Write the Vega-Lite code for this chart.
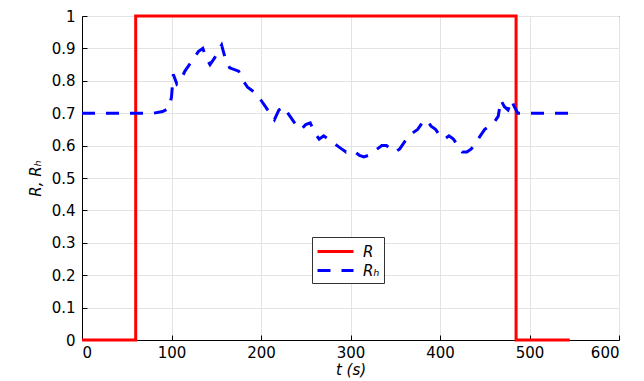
{
  "$schema": "https://vega.github.io/schema/vega-lite/v6.json",
  "width": 537,
  "height": 324,
  "autosize": {"type": "none"},
  "padding": {"left": 82, "top": 16, "right": 25, "bottom": 41},
  "background": "white",
  "config": {
    "view": {"stroke": "black", "strokeWidth": 1}
  },
  "data": {
    "values": [
      {"s": "R", "i": 0, "t": 0, "v": 0},
      {"s": "R", "i": 1, "t": 60, "v": 0},
      {"s": "R", "i": 2, "t": 60, "v": 1},
      {"s": "R", "i": 3, "t": 485, "v": 1},
      {"s": "R", "i": 4, "t": 485, "v": 0},
      {"s": "R", "i": 5, "t": 545, "v": 0},
      {"s": "Rₕ", "i": 0, "t": 0, "v": 0.7},
      {"s": "Rₕ", "i": 1, "t": 60, "v": 0.7},
      {"s": "Rₕ", "i": 2, "t": 80, "v": 0.7},
      {"s": "Rₕ", "i": 3, "t": 90, "v": 0.705},
      {"s": "Rₕ", "i": 4, "t": 97, "v": 0.715},
      {"s": "Rₕ", "i": 5, "t": 100, "v": 0.75},
      {"s": "Rₕ", "i": 6, "t": 102, "v": 0.82},
      {"s": "Rₕ", "i": 7, "t": 106, "v": 0.79},
      {"s": "Rₕ", "i": 8, "t": 110, "v": 0.8},
      {"s": "Rₕ", "i": 9, "t": 115, "v": 0.83},
      {"s": "Rₕ", "i": 10, "t": 120, "v": 0.85},
      {"s": "Rₕ", "i": 11, "t": 125, "v": 0.87},
      {"s": "Rₕ", "i": 12, "t": 130, "v": 0.89},
      {"s": "Rₕ", "i": 13, "t": 135, "v": 0.9},
      {"s": "Rₕ", "i": 14, "t": 139, "v": 0.87},
      {"s": "Rₕ", "i": 15, "t": 143, "v": 0.85},
      {"s": "Rₕ", "i": 16, "t": 148, "v": 0.87},
      {"s": "Rₕ", "i": 17, "t": 152, "v": 0.89},
      {"s": "Rₕ", "i": 18, "t": 156, "v": 0.91},
      {"s": "Rₕ", "i": 19, "t": 160, "v": 0.87},
      {"s": "Rₕ", "i": 20, "t": 165, "v": 0.84},
      {"s": "Rₕ", "i": 21, "t": 175, "v": 0.83},
      {"s": "Rₕ", "i": 22, "t": 180, "v": 0.8},
      {"s": "Rₕ", "i": 23, "t": 185, "v": 0.78},
      {"s": "Rₕ", "i": 24, "t": 190, "v": 0.77},
      {"s": "Rₕ", "i": 25, "t": 195, "v": 0.76},
      {"s": "Rₕ", "i": 26, "t": 200, "v": 0.74},
      {"s": "Rₕ", "i": 27, "t": 205, "v": 0.72},
      {"s": "Rₕ", "i": 28, "t": 210, "v": 0.7},
      {"s": "Rₕ", "i": 29, "t": 215, "v": 0.68},
      {"s": "Rₕ", "i": 30, "t": 220, "v": 0.71},
      {"s": "Rₕ", "i": 31, "t": 225, "v": 0.72},
      {"s": "Rₕ", "i": 32, "t": 230, "v": 0.7},
      {"s": "Rₕ", "i": 33, "t": 235, "v": 0.68},
      {"s": "Rₕ", "i": 34, "t": 240, "v": 0.66},
      {"s": "Rₕ", "i": 35, "t": 245, "v": 0.65},
      {"s": "Rₕ", "i": 36, "t": 250, "v": 0.665},
      {"s": "Rₕ", "i": 37, "t": 255, "v": 0.67},
      {"s": "Rₕ", "i": 38, "t": 260, "v": 0.64},
      {"s": "Rₕ", "i": 39, "t": 265, "v": 0.62},
      {"s": "Rₕ", "i": 40, "t": 270, "v": 0.63},
      {"s": "Rₕ", "i": 41, "t": 275, "v": 0.62},
      {"s": "Rₕ", "i": 42, "t": 280, "v": 0.61},
      {"s": "Rₕ", "i": 43, "t": 285, "v": 0.6},
      {"s": "Rₕ", "i": 44, "t": 290, "v": 0.59},
      {"s": "Rₕ", "i": 45, "t": 295, "v": 0.58},
      {"s": "Rₕ", "i": 46, "t": 300, "v": 0.585},
      {"s": "Rₕ", "i": 47, "t": 305, "v": 0.58},
      {"s": "Rₕ", "i": 48, "t": 310, "v": 0.57},
      {"s": "Rₕ", "i": 49, "t": 315, "v": 0.565},
      {"s": "Rₕ", "i": 50, "t": 320, "v": 0.57},
      {"s": "Rₕ", "i": 51, "t": 325, "v": 0.58},
      {"s": "Rₕ", "i": 52, "t": 330, "v": 0.59},
      {"s": "Rₕ", "i": 53, "t": 335, "v": 0.6},
      {"s": "Rₕ", "i": 54, "t": 340, "v": 0.6},
      {"s": "Rₕ", "i": 55, "t": 345, "v": 0.59},
      {"s": "Rₕ", "i": 56, "t": 350, "v": 0.58},
      {"s": "Rₕ", "i": 57, "t": 355, "v": 0.59},
      {"s": "Rₕ", "i": 58, "t": 360, "v": 0.61},
      {"s": "Rₕ", "i": 59, "t": 365, "v": 0.63},
      {"s": "Rₕ", "i": 60, "t": 370, "v": 0.64},
      {"s": "Rₕ", "i": 61, "t": 375, "v": 0.65},
      {"s": "Rₕ", "i": 62, "t": 380, "v": 0.67},
      {"s": "Rₕ", "i": 63, "t": 385, "v": 0.68},
      {"s": "Rₕ", "i": 64, "t": 390, "v": 0.66},
      {"s": "Rₕ", "i": 65, "t": 395, "v": 0.65},
      {"s": "Rₕ", "i": 66, "t": 400, "v": 0.63},
      {"s": "Rₕ", "i": 67, "t": 405, "v": 0.62},
      {"s": "Rₕ", "i": 68, "t": 410, "v": 0.63},
      {"s": "Rₕ", "i": 69, "t": 415, "v": 0.62},
      {"s": "Rₕ", "i": 70, "t": 420, "v": 0.6},
      {"s": "Rₕ", "i": 71, "t": 425, "v": 0.58},
      {"s": "Rₕ", "i": 72, "t": 430, "v": 0.58},
      {"s": "Rₕ", "i": 73, "t": 435, "v": 0.59},
      {"s": "Rₕ", "i": 74, "t": 440, "v": 0.61},
      {"s": "Rₕ", "i": 75, "t": 445, "v": 0.63},
      {"s": "Rₕ", "i": 76, "t": 450, "v": 0.65},
      {"s": "Rₕ", "i": 77, "t": 455, "v": 0.66},
      {"s": "Rₕ", "i": 78, "t": 460, "v": 0.67},
      {"s": "Rₕ", "i": 79, "t": 465, "v": 0.69},
      {"s": "Rₕ", "i": 80, "t": 468, "v": 0.74},
      {"s": "Rₕ", "i": 81, "t": 472, "v": 0.72},
      {"s": "Rₕ", "i": 82, "t": 476, "v": 0.71},
      {"s": "Rₕ", "i": 83, "t": 480, "v": 0.74},
      {"s": "Rₕ", "i": 84, "t": 483, "v": 0.72},
      {"s": "Rₕ", "i": 85, "t": 487, "v": 0.7},
      {"s": "Rₕ", "i": 86, "t": 500, "v": 0.7},
      {"s": "Rₕ", "i": 87, "t": 545, "v": 0.7}
    ]
  },
  "mark": {"type": "line", "strokeWidth": 3, "clip": false},
  "encoding": {
    "x": {
      "field": "t", "type": "quantitative",
      "scale": {"domain": [0, 600], "nice": false},
      "axis": {
        "values": [0, 100, 200, 300, 400, 500, 600],
        "title": "t (s)", "titleFontStyle": "italic", "titlePadding": 2,
        "labelFont": "DejaVu Sans", "labelFontSize": 15, "labelColor": "black",
        "titleFont": "DejaVu Sans", "titleFontSize": 15, "titleFontWeight": "normal", "titleColor": "black",
        "domainColor": "black", "tickColor": "black", "tickSize": -5, "labelPadding": 10,
        "gridColor": "#e3e3e3"
      }
    },
    "y": {
      "field": "v", "type": "quantitative",
      "scale": {"domain": [0, 1], "nice": false},
      "axis": {
        "values": [0, 0.1, 0.2, 0.3, 0.4, 0.5, 0.6, 0.7, 0.8, 0.9, 1], "format": "~g",
        "title": "R, Rₕ", "titleFontStyle": "italic", "titlePadding": 8,
        "labelFont": "DejaVu Sans", "labelFontSize": 15, "labelColor": "black",
        "titleFont": "DejaVu Sans", "titleFontSize": 15, "titleFontWeight": "normal", "titleColor": "black",
        "domainColor": "black", "tickColor": "black", "tickSize": -5, "labelPadding": 12,
        "gridColor": "#e3e3e3"
      }
    },
    "color": {
      "field": "s", "type": "nominal",
      "scale": {"domain": ["R", "Rₕ"], "range": ["#ff0000", "#0000ff"]},
      "legend": {
        "title": null,
        "orient": "none",
        "legendX": 230,
        "legendY": 221,
        "strokeColor": "#333333",
        "fillColor": "white",
        "padding": 4,
        "symbolType": "M-1,0H3",
        "symbolSize": 324,
        "symbolStrokeWidth": 3,
        "symbolDash": [],
        "labelFontStyle": "italic",
        "labelFontSize": 15,
        "labelFont": "DejaVu Sans",
        "labelColor": "black",
        "labelOffset": 26,
        "rowPadding": -3
      }
    },
    "strokeDash": {
      "field": "s", "type": "nominal",
      "scale": {"domain": ["R", "Rₕ"], "range": [[1, 0], [13, 11]]},
      "legend": null
    },
    "order": {"field": "i", "type": "quantitative"}
  }
}
